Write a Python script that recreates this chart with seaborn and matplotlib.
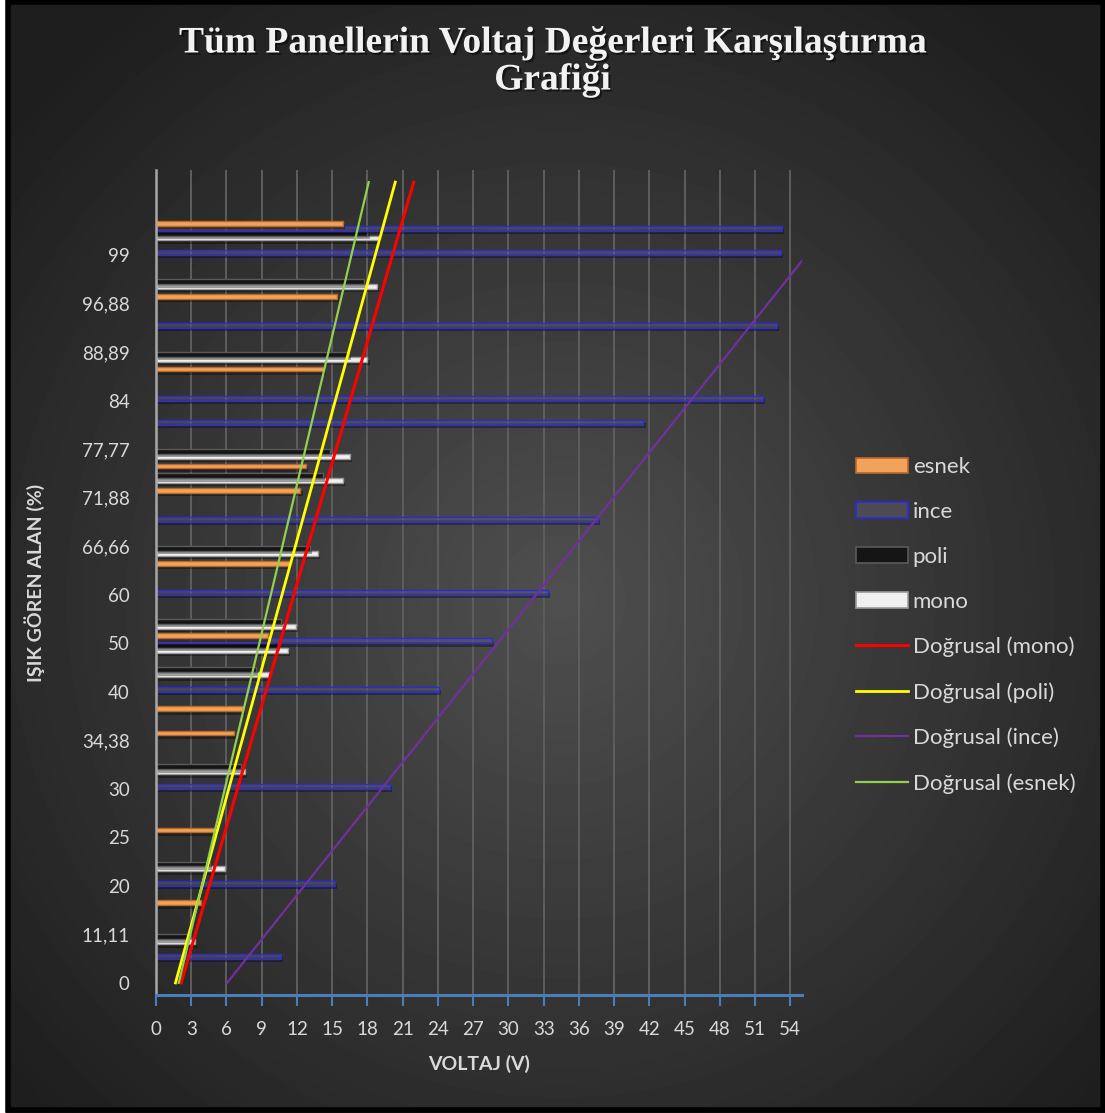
import numpy as np
import pandas as pd
import matplotlib
matplotlib.use("Agg")
import matplotlib.pyplot as plt
import matplotlib.patheffects as pe
from matplotlib.patches import Patch, Rectangle
import seaborn as sns

nan = np.nan

# y rows (bottom to top); only every other row carries a label
row_labels = ["0", "", "11,11", "", "20", "", "25", "", "30", "", "34,38", "",
              "40", "", "50", "", "60", "", "66,66", "", "71,88", "", "77,77", "",
              "84", "", "88,89", "", "96,88", "", "99", "", "", ""]

mono = [nan, nan, 3.3, nan, nan, 5.9, nan, nan, nan, 7.6, nan, nan,
        nan, 9.65, 11.2, 11.9, nan, nan, 13.8, nan, nan, 15.9, 16.5, nan,
        nan, nan, 18.0, nan, nan, 18.8, nan, 19.0, nan, nan]
poli = [nan, nan, 2.7, nan, nan, 4.6, nan, nan, nan, 7.2, nan, nan,
        nan, 8.5, 10.4, 10.6, nan, nan, 13.1, nan, nan, 14.2, 14.8, nan,
        nan, nan, 16.4, nan, nan, 17.7, nan, 18.0, nan, nan]
ince = [nan, 10.6, nan, nan, 15.2, nan, nan, nan, 19.9, nan, nan, nan,
        24.1, nan, 28.6, nan, 33.4, nan, nan, 37.6, nan, nan, nan, 41.5,
        51.7, nan, nan, 52.9, nan, nan, 53.2, 53.3, nan, nan]
esnek = [nan, nan, nan, 3.8, nan, nan, 5.2, nan, nan, nan, 6.6, 7.4,
         nan, nan, 9.5, nan, nan, 11.4, nan, nan, 12.3, 12.8, nan, nan,
         nan, 14.3, nan, nan, 15.4, nan, nan, 15.9, nan, nan]

series_names = ["mono", "poli", "ince", "esnek"]
# linear trendlines (value at first row, change per row)
trend_start = [2.14, 1.66, 6.05, 1.94]
trend_slope = [0.600, 0.567, 1.645, 0.490]

bar_face = {"mono": "#f0f0f0", "poli": "#151515", "ince": (0.36, 0.36, 0.40, 0.55), "esnek": "#f3a25a"}
bar_edge = {"mono": "#9a9a9a", "poli": "#5a5a5a", "ince": "#2a2ae6", "esnek": "#b8692a"}
trend_color = {"mono": "#ff0000", "poli": "#ffff00", "ince": "#7030a0", "esnek": "#92d050"}
trend_lw = {"mono": 2.2, "poli": 2.0, "ince": 1.6, "esnek": 1.6}

rows = list(range(len(row_labels)))
df = pd.DataFrame({"row": rows, "mono": mono, "poli": poli, "ince": ince, "esnek": esnek})
long = df.melt(id_vars="row", var_name="panel", value_name="voltaj").dropna()

plt.rcParams["font.family"] = ["Lato", "DejaVu Sans"]
text_col = "#d9d9d9"

W, H = 1105, 1113
fig = plt.figure(figsize=(W / 100, H / 100), dpi=100)

# radial gradient background
yy, xx = np.mgrid[0:H, 0:W]
r = np.hypot((xx - 560) / W, (yy - 600) / H)
grad = np.clip(0.31 - 0.21 * r / 0.72, 0.12, 0.4)
bg = fig.add_axes([0, 0, 1, 1], zorder=0)
bg.imshow(grad, cmap="gray", vmin=0, vmax=1, extent=(0, 1, 0, 1), aspect="auto")
bg.axis("off")

ax = fig.add_axes([156 / W, 1 - 995 / H, (802 - 156) / W, (995 - 170) / H], zorder=1)
ax.set_facecolor("none")

sns.barplot(data=long, x="voltaj", y="row", hue="panel", order=rows,
            hue_order=series_names, orient="h", width=0.8, errorbar=None,
            legend=False, ax=ax)

shadow = [pe.SimplePatchShadow(offset=(1.5, -2.5), shadow_rgbFace="black", alpha=0.35), pe.Normal()]
for cont, name in zip(ax.containers, series_names):
    for bar in cont:
        bar.set_facecolor(bar_face[name])
        bar.set_edgecolor(bar_edge[name])
        bar.set_linewidth(1.0)
        bar.set_path_effects(shadow)

row_pos = np.array(rows)
lines = {}
for name, a, b in zip(series_names, trend_start, trend_slope):
    ln, = ax.plot(a + b * row_pos, row_pos, color=trend_color[name], lw=trend_lw[name],
                  label=f"Doğrusal ({name})", zorder=5)
    lines[name] = ln

ax.set_xlim(0, 55)
ax.set_ylim(-0.5, len(rows) - 0.5)
ax.set_xticks(np.arange(0, 55, 3))
ax.set_yticks(rows)
ax.set_yticklabels(row_labels)
ax.xaxis.grid(True, color="#5e5e5e", lw=1.4)
ax.yaxis.grid(False)
ax.set_axisbelow(True)

for s in ["top", "right"]:
    ax.spines[s].set_visible(False)
ax.spines["left"].set_color("#a8a8a8")
ax.spines["left"].set_linewidth(1.8)
ax.spines["bottom"].set_color("#4a7ebb")
ax.spines["bottom"].set_linewidth(2.2)
ax.tick_params(axis="x", colors="#4a7ebb", length=8, width=1.5,
               labelcolor=text_col, labelsize=13.5, pad=11)
ax.tick_params(axis="y", length=0, labelcolor=text_col, labelsize=13.5, pad=19)

ax.set_xlabel("VOLTAJ (V)", color=text_col, fontsize=14, fontweight="bold", labelpad=12)
ax.set_ylabel("IŞIK GÖREN ALAN (%)", color=text_col, fontsize=14, fontweight="bold", labelpad=26)

title_fx = [pe.withSimplePatchShadow(offset=(1.5, -1.5), shadow_rgbFace="black", alpha=0.5)]
fig.text(0.5, 1 - 43 / H, "Tüm Panellerin Voltaj Değerleri Karşılaştırma", ha="center", va="center",
         family="Liberation Serif", fontweight="bold", fontsize=27, color="#f2f2f2", path_effects=title_fx)
fig.text(0.5, 1 - 80 / H, "Grafiği", ha="center", va="center",
         family="Liberation Serif", fontweight="bold", fontsize=27, color="#f2f2f2", path_effects=title_fx)

handles = [Patch(facecolor=bar_face[n], edgecolor=bar_edge[n], linewidth=1.2)
           for n in ["esnek", "ince", "poli", "mono"]]
handles += [lines[n] for n in ["mono", "poli", "ince", "esnek"]]
labels = ["esnek", "ince", "poli", "mono"] + [f"Doğrusal ({n})" for n in ["mono", "poli", "ince", "esnek"]]
fig.legend(handles, labels, loc="upper left", bbox_to_anchor=(856 / W, 1 - 457 / H),
           frameon=False, fontsize=16, labelcolor=text_col, handlelength=2.35,
           handleheight=0.68, handletextpad=0.2, labelspacing=1.12, borderpad=0, borderaxespad=0)

# outer frame
fig.patches.append(Rectangle((0, 0), 6 / W, 1, transform=fig.transFigure, fc="white", ec="none", zorder=10))
fig.patches.append(Rectangle((8 / W, 3 / H), (W - 10) / W, (H - 5) / H, transform=fig.transFigure,
                             fill=False, ec="black", lw=4, zorder=10))

fig.savefig("out.png", dpi=100)
